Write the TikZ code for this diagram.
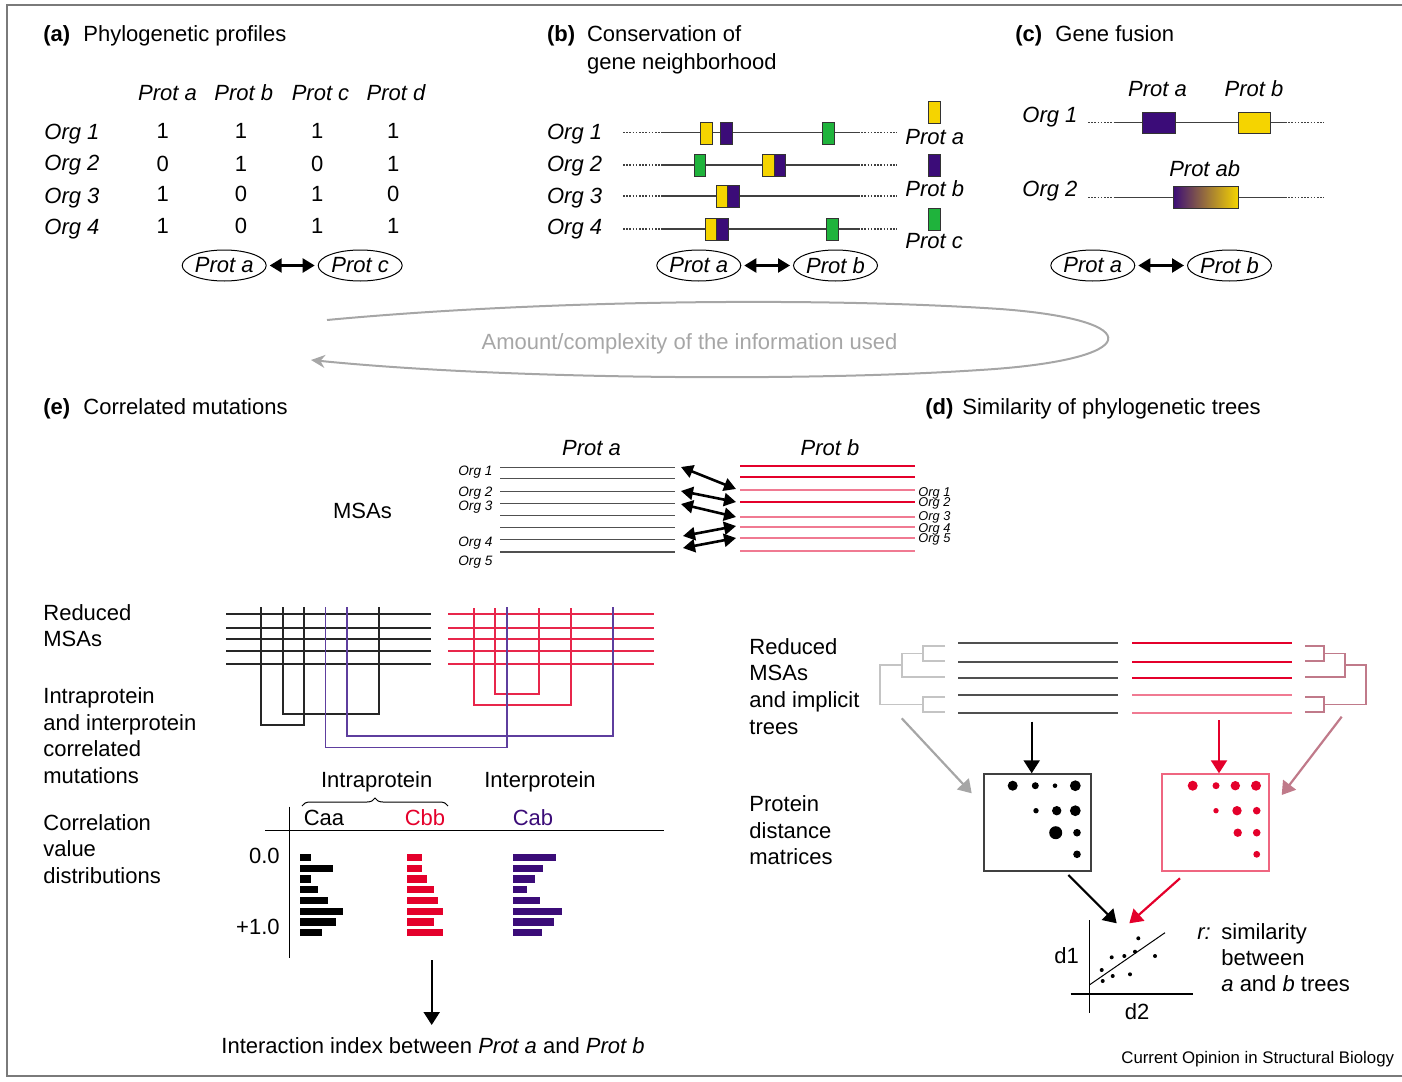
\documentclass[tikz,border=0pt]{standalone}
\usepackage{fontspec}
\setmainfont{Liberation Sans}
\usetikzlibrary{shapes.geometric,arrows.meta,decorations.pathreplacing}
\definecolor{yel}{HTML}{F5D400}
\definecolor{prp}{HTML}{3B0C78}
\definecolor{prpmid}{HTML}{5E3E9E}
\definecolor{grn}{HTML}{1FB33C}
\definecolor{rd}{HTML}{E4002B}
\definecolor{rdlt}{HTML}{F07A92}
\definecolor{mauve}{HTML}{C07A8A}
\definecolor{framec}{HTML}{7A7A7A}
\definecolor{loopg}{HTML}{A6A6A6}
\definecolor{treeg}{HTML}{C4C4C4}
\definecolor{msag}{HTML}{505050}
\newcommand\fmain{\fontsize{11}{13}\selectfont}
\newcommand\fsmall{\fontsize{6.8}{8}\selectfont}
\newcommand\ftiny{\fontsize{6.4}{7}\selectfont}
\newcommand\fcred{\fontsize{8.4}{10}\selectfont}
\begin{document}
\begin{tikzpicture}[x=0.5pt,y=-0.5pt,
  txt/.style={inner sep=0pt,font=\fmain},
  lt/.style={txt,anchor=base west},
  ct/.style={txt,anchor=base},
  tag/.style={lt,font=\fmain\bfseries},
  pe/.style={ellipse,draw,line width=0.5pt,inner sep=0pt,minimum width=42pt,minimum height=15.5pt,font=\fmain\itshape},
  dbl/.style={{Triangle[length=6pt,width=7pt]}-{Triangle[length=6pt,width=7pt]},line width=1.2pt,shorten <=1.5pt,shorten >=1.5pt},
  chrom/.style={draw=black!75,line width=0.6pt},
  dots/.style={chrom,dash pattern=on 0.8pt off 0.8pt},
  gene/.style={rectangle,draw=black!80,line width=0.45pt,inner sep=0pt,minimum width=5.75pt,minimum height=11pt},
  msa/.style={line width=0.95pt},
  pair/.style={{Triangle[length=6pt,width=6.5pt]}-{Triangle[length=6pt,width=6.5pt]},line width=1.3pt},
  down/.style={-{Triangle[length=6.5pt,width=8pt]},line width=1.1pt},
  loopwire/.style={line width=0.85pt},
  tree/.style={line width=0.75pt}]
\useasboundingbox (0,0) rectangle (1402,1081);
% outer frame (open on the right)
\draw[framec,line width=1pt] (1402,5) -- (7,5) -- (7,1076) -- (1402,1076);

% ---------------- (a) Phylogenetic profiles ----------------
\node[tag] (a-tag) at (43,42) {(a)};
\node[lt] (a-title) at (83,42) {Phylogenetic profiles};
\foreach \x/\t [count=\i] in {167.5/a,243.8/b,320.5/c,396.3/d}
  \node[ct] (a-h\i) at (\x,100.5) {\textit{Prot \t}};
\foreach \y [count=\i] in {139.5,170.5,203,234.5}
  \node[lt] (a-o\i) at (44,\y) {\textit{Org \i}};
\foreach \x/\v [count=\c] in {162.7/1,241/1,317.3/1,393.3/1}
  \node[ct] (a-v1\c) at (\x,139) {\v};
\foreach \x/\v [count=\c] in {162.7/0,241/1,317.3/0,393.3/1}
  \node[ct] (a-v2\c) at (\x,171) {\v};
\foreach \x/\v [count=\c] in {162.7/1,241/0,317.3/1,393.3/0}
  \node[ct] (a-v3\c) at (\x,201) {\v};
\foreach \x/\v [count=\c] in {162.7/1,241/0,317.3/1,393.3/1}
  \node[ct] (a-v4\c) at (\x,233) {\v};
\node[pe] (a-pa) at (224.2,265.5) {Prot a};
\node[pe] (a-pc) at (360.2,265.5) {Prot c};
\draw[dbl] (a-pa) -- (a-pc);

% ---------------- (b) Conservation of gene neighborhood ----------------
\node[tag] (b-tag) at (546.7,42) {(b)};
\node[lt] (b-t1) at (586.7,42) {Conservation of};
\node[lt] (b-t2) at (586.7,70) {gene neighborhood};
\foreach \y [count=\i] in {139.7,171.3,203,234.7}
  \node[lt] (b-o\i) at (546.7,\y) {\textit{Org \i}};
\foreach \y in {132.7,165,196,229} {
  \draw[dots] (623,\y) -- (662,\y);
  \draw[chrom] (662,\y) -- (858,\y);
  \draw[dots] (858,\y) -- (897,\y);
}
\node[gene,fill=yel] (b-g1a) at (706.5,133) {};
\node[gene,fill=prp] (b-g1b) at (726.5,133) {};
\node[gene,fill=grn] (b-g1c) at (828.5,133) {};
\node[gene,fill=grn] (b-g2c) at (700,165) {};
\node[gene,fill=yel] (b-g2a) at (768.5,165) {};
\node[gene,fill=prp] (b-g2b) at (780,165) {};
\node[gene,fill=yel] (b-g3a) at (722,196) {};
\node[gene,fill=prp] (b-g3b) at (733.5,196) {};
\node[gene,fill=yel] (b-g4a) at (711,229) {};
\node[gene,fill=prp] (b-g4b) at (722.5,229) {};
\node[gene,fill=grn] (b-g4c) at (832.5,229) {};
\node[gene,fill=yel] (b-ka) at (934.5,112) {};
\node[gene,fill=prp] (b-kb) at (934.5,165) {};
\node[gene,fill=grn] (b-kc) at (934.5,219) {};
\node[lt] (b-la) at (905,145) {\textit{Prot a}};
\node[lt] (b-lb) at (905,196.5) {\textit{Prot b}};
\node[lt] (b-lc) at (905,248) {\textit{Prot c}};
\node[pe] (b-pa) at (698.8,265.5) {Prot a};
\node[pe] (b-pb) at (835.5,265.5) {Prot b};
\draw[dbl] (b-pa) -- (b-pb);

% ---------------- (c) Gene fusion ----------------
\node[tag] (c-tag) at (1015,42) {(c)};
\node[lt] (c-title) at (1055,42) {Gene fusion};
\node[ct] (c-ha) at (1157.5,96.3) {\textit{Prot a}};
\node[ct] (c-hb) at (1254,96.3) {\textit{Prot b}};
\node[ct] (c-hab) at (1204.7,176.3) {\textit{Prot ab}};
\node[lt] (c-o1) at (1022,123) {\textit{Org 1}};
\node[lt] (c-o2) at (1022,196.3) {\textit{Org 2}};
\foreach \y in {122.3,197.7} {
  \draw[dots] (1088,\y) -- (1115,\y);
  \draw[chrom] (1115,\y) -- (1285,\y);
  \draw[dots] (1285,\y) -- (1324,\y);
}
\node[gene,fill=prp,minimum width=16.5pt,minimum height=10.5pt] (c-ga) at (1158.5,122.5) {};
\node[gene,fill=yel,minimum width=16pt,minimum height=10.5pt] (c-gb) at (1254,122.5) {};
\node[gene,left color=prp,right color=yel,minimum width=32.5pt,minimum height=11pt] (c-gab) at (1205.5,197) {};
\node[pe] (c-pa) at (1092.8,265.5) {Prot a};
\node[pe] (c-pb) at (1229.5,265.5) {Prot b};
\draw[dbl] (c-pa) -- (c-pb);

% ---------------- information loop ----------------
\draw[loopg,line width=1pt,-{Stealth[length=7pt,width=6.5pt]}]
  (327,320) .. controls (540,300) and (820,297) .. (1000,309)
  .. controls (1150,320) and (1145,360) .. (980,370)
  .. controls (800,382) and (500,379) .. (311,360);
\node[ct,text=loopg] (loop-t) at (689.5,349.5) {Amount/complexity of the information used};

% ---------------- (e) Correlated mutations ----------------
\node[tag] (e-tag) at (43,414.5) {(e)};
\node[lt] (e-title) at (83,414.5) {Correlated mutations};
\node[ct] (e-msas) at (362.5,518) {MSAs};
\node[ct] (e-pa) at (591.5,455) {\textit{Prot a}};
\node[ct] (e-pb) at (830,455) {\textit{Prot b}};
\foreach \y in {467.5,478.5,491.5,503.5,515.5,527.5,539.5,552}
  \draw[msa,msag] (500,\y) -- (675,\y);
\foreach \y/\c in {466/rd,477.3/rd,490/rdlt,502.3/rd,516.7/rdlt,526.7/rdlt,538.3/rdlt,550.7/rdlt}
  \draw[msa,\c] (740,\y) -- (915,\y);
\foreach \y/\n in {475/1,496.5/2,510/3,546.5/4,565/5}
  \node[lt,font=\fsmall\itshape] (e-lo\n) at (458,\y) {Org \n};
\foreach \y/\n in {496/1,506.5/2,520/3,532/4,542/5}
  \node[lt,font=\ftiny\itshape] (e-ro\n) at (918,\y) {Org \n};
\coordinate (e-l1) at (681,467);  \coordinate (e-r1) at (736,489);
\coordinate (e-l2) at (681,491);  \coordinate (e-r2) at (736,502);
\coordinate (e-l3) at (681,504);  \coordinate (e-r3) at (736,517);
\coordinate (e-l4) at (683,536);  \coordinate (e-r4) at (736,526);
\coordinate (e-l5) at (683,548);  \coordinate (e-r5) at (736,538);
\foreach \i in {1,...,5} \draw[pair] (e-l\i) -- (e-r\i);

\node[lt] (e-red1) at (43,620) {Reduced};
\node[lt] (e-red2) at (43,646) {MSAs};
\node[lt] (e-cm1) at (43,703) {Intraprotein};
\node[lt] (e-cm2) at (43,730) {and interprotein};
\node[lt] (e-cm3) at (43,756) {correlated};
\node[lt] (e-cm4) at (43,783) {mutations};
\node[lt] (e-cv1) at (43,830) {Correlation};
\node[lt] (e-cv2) at (43,856.5) {value};
\node[lt] (e-cv3) at (43,883) {distributions};

% reduced alignments with correlated positions
\foreach \y in {614.3,628.3,638.7,651,664.3} {
  \draw[loopwire,black!85] (226,\y) -- (431,\y);
  \draw[loopwire,rd!85] (448,\y) -- (654,\y);
}
\draw[loopwire,black!85] (261,607) -- (261,725) -- (304,725) -- (304,607);
\draw[loopwire,black!85] (283,607) -- (283,714) -- (379,714) -- (379,607);
\draw[loopwire,rd!85] (474.3,608) -- (474.3,705) -- (570.7,705) -- (570.7,608);
\draw[loopwire,rd!85] (495.3,608) -- (495.3,694.3) -- (538.7,694.3) -- (538.7,608);
\draw[loopwire,prpmid] (325.5,607) -- (325.5,747.5) -- (506.7,747.5) -- (506.7,607);
\draw[loopwire,prpmid] (346.7,607) -- (346.7,736) -- (613.3,736) -- (613.3,607);

% correlation histograms
\node[ct] (e-intra) at (376.7,787) {Intraprotein};
\node[ct] (e-inter) at (540,787) {Interprotein};
\draw[line width=0.5pt,decorate,decoration={brace,amplitude=4pt}] (302,806) -- (448,806);
\node[ct] (e-caa) at (324,825) {Caa};
\node[ct,text=rd] (e-cbb) at (425,825) {Cbb};
\node[ct,text=prp] (e-cab) at (533,825) {Cab};
\draw[line width=0.6pt] (265,830.7) -- (664,830.7);
\draw[line width=0.6pt] (289.3,806.7) -- (289.3,958.3);
\node[txt,anchor=base east] (e-z) at (280,863.5) {0.0};
\node[txt,anchor=base east] (e-o) at (280,934) {+1.0};
\foreach \w [count=\i from 0] in {11,32.7,11,17.7,28.3,42.7,36,21.7}
  \fill[black] (300,{854.05+\i*10.7}) rectangle ++(\w,7.3);
\foreach \w [count=\i from 0] in {15.7,15,20,27.3,31.7,36,27.3,36}
  \fill[rd] (406.7,{854.05+\i*10.7}) rectangle ++(\w,7.3);
\foreach \w [count=\i from 0] in {42.7,30,21.7,14,26.7,48.7,41,29}
  \fill[prp] (513.3,{854.05+\i*10.7}) rectangle ++(\w,7.3);
\coordinate (e-hist) at (431.7,960);
\node[ct] (e-index) at (433,1053) {Interaction index between \textit{Prot a} and \textit{Prot b}};
\draw[down] (e-hist) -- (431.7,1025);

% ---------------- (d) Similarity of phylogenetic trees ----------------
\node[tag] (d-tag) at (925,414.5) {(d)};
\node[lt] (d-title) at (962,414.5) {Similarity of phylogenetic trees};
\node[lt] (d-r1) at (749,654) {Reduced};
\node[lt] (d-r2) at (749,680) {MSAs};
\node[lt] (d-r3) at (749,707) {and implicit};
\node[lt] (d-r4) at (749,734) {trees};
\node[lt] (d-p1) at (749,811) {Protein};
\node[lt] (d-p2) at (749,838) {distance};
\node[lt] (d-p3) at (749,864) {matrices};
\foreach \y in {643.3,662,677.7,695.3,713}
  \draw[msa,msag] (958,\y) -- (1118,\y);
\foreach \y/\c in {643.3/rd,662/rd,677.7/rd,695.3/rdlt,713/rdlt}
  \draw[msa,\c] (1132,\y) -- (1292,\y);
% implicit trees
\draw[tree,treeg] (945,646) -- (923,646) -- (923,661) -- (945,661);
\draw[tree,treeg] (923,653.5) -- (902,653.5) -- (902,677) -- (945,677);
\draw[tree,treeg] (945,697) -- (923,697) -- (923,712) -- (945,712);
\draw[tree,treeg] (902,665) -- (880,665) -- (880,704.5) -- (923,704.5);
\draw[tree,mauve] (1305,646) -- (1324,646) -- (1324,661) -- (1305,661);
\draw[tree,mauve] (1324,653.5) -- (1345,653.5) -- (1345,677) -- (1305,677);
\draw[tree,mauve] (1305,697) -- (1324,697) -- (1324,712) -- (1305,712);
\draw[tree,mauve] (1345,665) -- (1366,665) -- (1366,704.5) -- (1324,704.5);
% distance matrices
\node[draw=black!75,line width=1pt,minimum width=53.5pt,minimum height=48.2pt,inner sep=0pt] (d-mb) at (1037.5,822.5) {};
\node[draw=rd!60,line width=1pt,minimum width=53.5pt,minimum height=48.2pt,inner sep=0pt] (d-mr) at (1215.8,822.5) {};
\foreach \x/\y/\r in {1012.7/785.7/5,1035.3/785.7/3.5,1055/785.7/2.3,1075.3/785.7/5.4,
    1036/810.7/2.7,1056.7/810.7/4.7,1075.3/810.7/5.4,1055.7/832.7/6.5,1077/832.7/3.8,1077/854.3/3.8}
  \fill[black] (\x,\y) circle[radius=\r];
\foreach \x/\y/\r in {1192.7/785.7/5,1216/785.7/3.5,1235.3/785.7/4.7,1256/785.7/5,
    1216/810.7/2.7,1237/810.7/4.7,1256.7/810.7/3.8,1237.7/832.7/4.2,1256.7/832.7/3.8,1256.7/854.3/3.4}
  \fill[rd] (\x,\y) circle[radius=\r];
\coordinate (d-ta) at (1031.7,721.7);
\coordinate (d-tb) at (1219,720);
\coordinate (d-tl) at (901.7,718.3);
\coordinate (d-tr) at (1341.7,716.7);
\draw[down] (d-ta) -- (d-mb.north -| d-ta);
\draw[down,rd] (d-tb) -- (d-mr.north -| d-tb);
\draw[down,black!35] (d-tl) -- (971.7,793.3);
\draw[down,mauve] (d-tr) -- (1281.7,795);
% tree-similarity scatter plot
\draw[down] (1068.3,875) -- (1116.7,923.3);
\draw[down,rd] (1180,878.3) -- (1129.3,923.3);
\draw[line width=0.6pt] (1089.3,920) -- (1089.3,1013.3);
\draw[line width=0.6pt] (1070.7,994) -- (1192.7,994);
\draw[line width=0.5pt] (1089.3,985) -- (1165,932.7);
\foreach \x/\y in {1138.3/938.3,1111.7/957.3,1124.3/956,1135/951.7,1155/956,1101.7/970,1112.7/976,1130/974.3,1102.7/981}
  \fill (\x,\y) circle[radius=2];
\node[ct] (d-d1) at (1066.7,963) {d1};
\node[ct] (d-d2) at (1137,1019.7) {d2};
\node[lt] (d-r) at (1197,939.7) {\textit{r:}};
\node[lt] (d-s1) at (1221,939.7) {similarity};
\node[lt] (d-s2) at (1221,965.3) {between};
\node[lt] (d-s3) at (1221,991.3) {\textit{a} and \textit{b} trees};
\node[lt,font=\fcred] (credit) at (1121,1063.5) {Current Opinion in Structural Biology};
\end{tikzpicture}
\end{document}
